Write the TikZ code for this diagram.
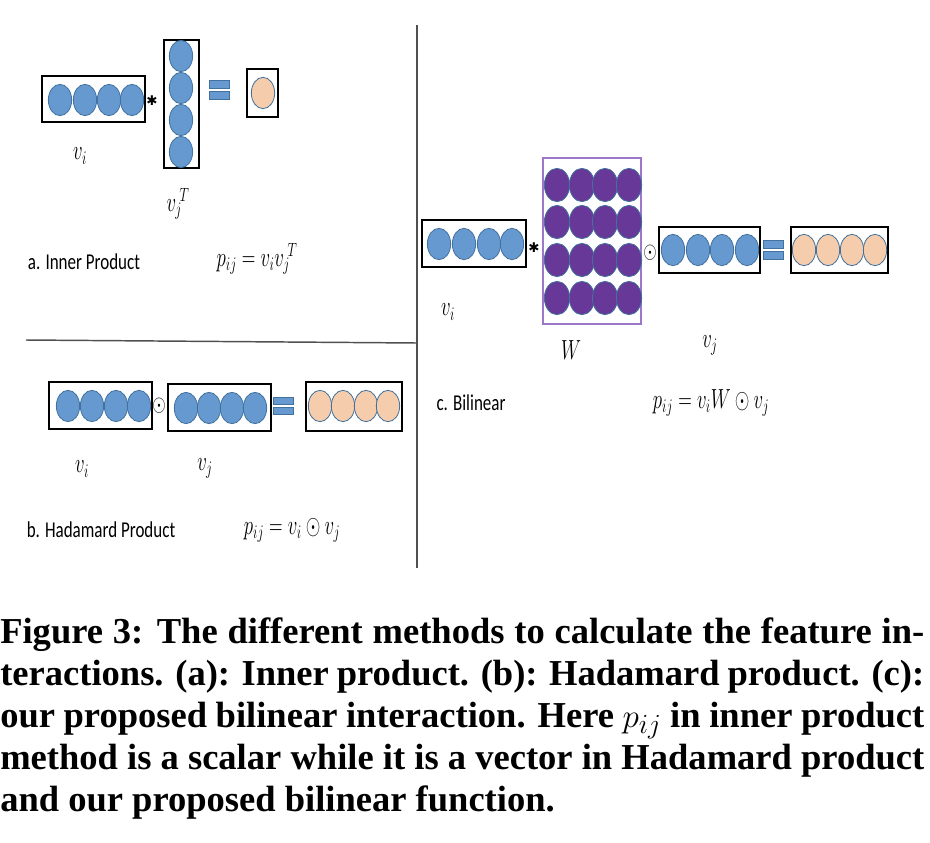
\documentclass[tikz,border=0pt]{standalone}
\usepackage{fontspec}
\usepackage{graphicx}
\setmainfont{Liberation Serif}
\newfontfamily\carlito{Carlito}
\newfontfamily\djv{DejaVu Sans}
\usetikzlibrary{shapes.geometric}
\definecolor{vblue}{RGB}{102,153,208}
\definecolor{vblueline}{RGB}{65,113,156}
\definecolor{vorange}{RGB}{245,204,172}
\definecolor{vpurple}{RGB}{104,56,152}
\definecolor{wframe}{RGB}{155,120,200}
\definecolor{sepgray}{RGB}{80,80,80}
\newcommand\hsq[1]{\scalebox{0.75}[1]{#1}}
\newcommand\msq[1]{\scalebox{0.68}[1]{#1}}
\tikzset{
  bc/.style={ellipse, draw=vblueline, fill=vblue, line width=0.6pt, minimum width=17.5pt, minimum height=23.5pt, inner sep=0},
  oc/.style={bc, fill=vorange},
  pc/.style={bc, fill=vpurple, minimum width=19pt, minimum height=25pt},
  vbox/.style={draw=black, line width=1pt},
  eqbar/.style={draw=vblueline, fill=vblue, line width=0.6pt},
  lab/.style={inner sep=0, font=\carlito\fontsize{17}{18}\selectfont},
  mlab/.style={inner sep=0, font=\fontsize{22}{24}\selectfont},
  opstar/.style={inner sep=0, font=\djv\fontsize{10}{11}\selectfont},
  opdot/.style={inner sep=0, font=\fontsize{17}{18}\selectfont},
  captxt/.style={inner sep=0, anchor=base west, font=\bfseries\fontsize{27.4}{31.5}\selectfont},
  sepline/.style={draw=sepgray, line width=1.1pt}
}
\begin{document}
\begin{tikzpicture}[x=0.75pt, y=-0.75pt]
\useasboundingbox (0,0) rectangle (930,842);
\fill[white] (0,0) rectangle (930,842);

% separators
\draw[sepline] (417,25) -- (417,568);
\draw[sepline] (26,340) -- (417,343);

% ---------- (a) Inner product ----------
\draw[vbox] (42,76) rectangle (145,122);
\foreach \x [count=\k] in {60,85,109,132} \node[bc] (a-i\k) at (\x,100) {};
\node[opstar] (a-star) at (152,101) {✱};
\draw[vbox] (164,40) rectangle (199,168);
\foreach \y [count=\k] in {56,88,120,152} \node[bc] (a-j\k) at (181,\y) {};
\draw[eqbar] (209,80) rectangle (229,88);
\draw[eqbar] (209,91) rectangle (229,99);
\draw[vbox] (247,69) rectangle (278,117);
\node[oc] (a-r) at (263,93) {};
\node[mlab] (a-vi) at (80,156) {\msq{$v_i$}};
\node[mlab] (a-vjt) at (178,204) {\msq{${v_j}^{\!T}$}};
\node[lab] (a-title) at (84,262) {\hsq{a. Inner Product}};
\node[mlab] (a-eq) at (257,259) {\msq{$p_{ij} = v_i {v_j}^{\!T}$}};

% ---------- (b) Hadamard product ----------
\draw[vbox] (49,382) rectangle (152,429);
\foreach \x [count=\k] in {68,92,116,139} \node[bc] (b-i\k) at (\x,406) {};
\node[opdot] (b-dot) at (159,406) {\hsq{$\odot$}};
\draw[vbox] (168,384) rectangle (271,431);
\foreach \x [count=\k] in {186,209,232,255} \node[bc] (b-j\k) at (\x,408) {};
\draw[eqbar] (273,397) rectangle (293,404);
\draw[eqbar] (273,407) rectangle (293,414);
\draw[vbox] (306,382) rectangle (402,431);
\foreach \x [count=\k] in {320,343,366,388} \node[oc] (b-r\k) at (\x,406) {};
\node[mlab] (b-vi) at (82,469) {\msq{$v_i$}};
\node[mlab] (b-vj) at (205,468) {\msq{$v_j$}};
\node[lab] (b-title) at (101,530) {\hsq{b. Hadamard Product}};
\node[mlab] (b-eq) at (292,530) {\msq{$p_{ij} = v_i \odot v_j$}};

% ---------- (c) Bilinear ----------
\draw[vbox] (422,220) rectangle (526,267);
\foreach \x [count=\k] in {439,464,489,512} \node[bc] (c-i\k) at (\x,244) {};
\node[opstar] (c-star) at (534,248) {✱};
\draw[draw=wframe, line width=1pt] (543,158) rectangle (641,324);
\foreach \y [count=\r] in {185,222,260,298}
  \foreach \x [count=\k] in {557,582,605,629}
    \node[pc] (c-w\r\k) at (\x,\y) {};
\node[opdot] (c-dot) at (650,253) {\hsq{$\odot$}};
\draw[vbox] (659,227) rectangle (760,273);
\foreach \x [count=\k] in {673,698,722,747} \node[bc] (c-j\k) at (\x,250) {};
\draw[eqbar] (763,240) rectangle (783,248);
\draw[eqbar] (763,251) rectangle (783,259);
\draw[vbox] (791,227) rectangle (888,273);
\foreach \x [count=\k] in {804,828,852,875} \node[oc] (c-r\k) at (\x,250) {};
\node[mlab] (c-vi) at (448,312) {\msq{$v_i$}};
\node[mlab] (c-w) at (571,350) {\msq{$W$}};
\node[mlab] (c-vj) at (710,345) {\msq{$v_j$}};
\node[lab] (c-title) at (471,403) {\hsq{c. Bilinear}};
\node[mlab] (c-eq) at (711,403) {\msq{$p_{ij} = v_i W \odot v_j$}};

% ---------- caption ----------
\node[captxt] (cap1) at (0,643) {\hbox to 693pt{Figure 3: The different methods to calculate the feature in-}};
\node[captxt] (cap2) at (0,685) {\hbox to 693pt{teractions. (a): Inner product. (b): Hadamard product. (c):}};
\node[captxt] (cap3) at (0,727) {\hbox to 693pt{our proposed bilinear interaction. Here $p_{ij}$ in inner product}};
\node[captxt] (cap4) at (0,769) {\hbox to 693pt{method is a scalar while it is a vector in Hadamard product}};
\node[captxt] (cap5) at (0,811) {and our proposed bilinear function.};
\end{tikzpicture}
\end{document}
